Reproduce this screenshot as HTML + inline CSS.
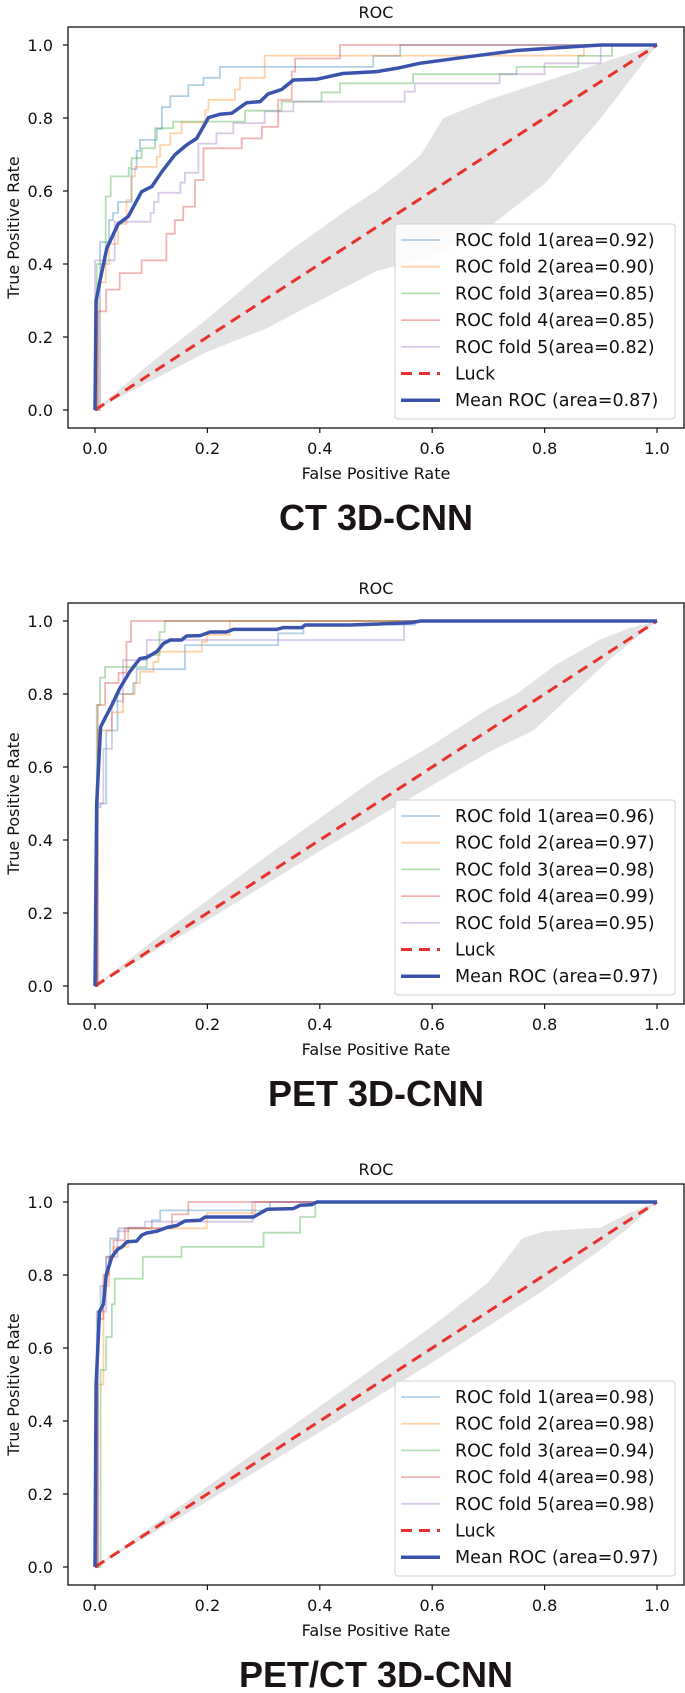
<!DOCTYPE html>
<html><head><meta charset="utf-8"><style>
html,body{margin:0;padding:0;background:#fff}
svg{display:block}
text{font-family:"DejaVu Sans","Liberation Sans",sans-serif;fill:#111}
.big{font-family:"Liberation Sans",sans-serif;font-weight:bold;fill:#1a1414}
</style></head><body>
<svg id="fig" width="685" height="1693" viewBox="0 0 685 1693" xmlns="http://www.w3.org/2000/svg"></svg>
<script>
// ---------- data: CT panel ----------
const ctTitles = ["ROC fold 1(area=0.92)","ROC fold 2(area=0.90)","ROC fold 3(area=0.85)","ROC fold 4(area=0.85)","ROC fold 5(area=0.82)","Luck","Mean ROC (area=0.87)"];
const ctF1x=[0.009,0.025,0.032,0.041,0.065,0.074,0.080,0.110,0.119,0.134,0.166,0.193,0.222,0.495,0.543];
const ctF1y=[0.46,0.52,0.54,0.57,0.66,0.71,0.74,0.77,0.83,0.86,0.89,0.91,0.94,0.97,1.0];
const ctF2x=[0.006,0.019,0.025,0.041,0.056,0.065,0.071,0.110,0.116,0.134,0.154,0.196,0.202,0.249,0.258,0.302,0.87];
const ctF2y=[0.35,0.40,0.455,0.51,0.575,0.64,0.666,0.694,0.726,0.758,0.788,0.821,0.85,0.878,0.91,0.971,1.0];
const ctF3x=[0.003,0.019,0.028,0.060,0.065,0.083,0.107,0.139,0.267,0.332,0.403,0.436,0.566,0.75,0.86,0.92];
const ctF3y=[0.40,0.585,0.64,0.663,0.69,0.717,0.772,0.79,0.82,0.845,0.87,0.895,0.92,0.94,0.97,1.0];
const ctF4x=[0.005,0.020,0.044,0.083,0.127,0.142,0.157,0.178,0.193,0.261,0.297,0.326,0.350,0.356,0.436];
const ctF4y=[0.27,0.33,0.375,0.41,0.483,0.52,0.557,0.63,0.717,0.744,0.776,0.85,0.927,0.963,1.0];
const ctF5x=[0.0,0.035,0.099,0.105,0.113,0.152,0.160,0.184,0.216,0.246,0.302,0.353,0.551,0.569,0.72,0.80,0.90];
const ctF5y=[0.41,0.516,0.54,0.57,0.595,0.623,0.65,0.73,0.758,0.786,0.818,0.845,0.872,0.895,0.92,0.95,1.0];
const ctMx=[0,0.002,0.009,0.021,0.041,0.059,0.083,0.101,0.119,0.142,0.163,0.181,0.202,0.222,0.243,0.270,0.294,0.308,0.332,0.353,0.394,0.441,0.501,0.536,0.578,0.65,0.75,0.85,0.9,1.0];
const ctMy=[0,0.30,0.356,0.443,0.509,0.530,0.598,0.612,0.653,0.699,0.726,0.744,0.801,0.810,0.813,0.842,0.845,0.866,0.878,0.904,0.906,0.922,0.927,0.936,0.950,0.965,0.985,0.995,1.0,1.0];
const ctBandUx=[0,0.1,0.2,0.3,0.35,0.45,0.5,0.55,0.58,0.62,0.7,0.8,0.9,1];
const ctBandUy=[0,0.13,0.25,0.38,0.44,0.55,0.6,0.66,0.7,0.8,0.85,0.9,0.95,1];
const ctBandLx=[0,0.1,0.2,0.3,0.4,0.5,0.6,0.7,0.8,0.9,0.95,1];
const ctBandLy=[0,0.08,0.16,0.22,0.3,0.38,0.42,0.5,0.62,0.8,0.9,1];
// ---------- data: PET panel ----------
const petTitles = ["ROC fold 1(area=0.96)","ROC fold 2(area=0.97)","ROC fold 3(area=0.98)","ROC fold 4(area=0.99)","ROC fold 5(area=0.95)","Luck","Mean ROC (area=0.97)"];
const petF1x=[0.004,0.010,0.020,0.040,0.068,0.074,0.160,0.326,0.371,0.57];
const petF1y=[0.49,0.50,0.70,0.80,0.83,0.868,0.934,0.966,0.99,1.0];
const petF2x=[0.005,0.030,0.050,0.071,0.080,0.104,0.113,0.190,0.199,0.240];
const petF2y=[0.70,0.75,0.80,0.83,0.861,0.888,0.916,0.943,0.962,1.0];
const petF3x=[0.003,0.009,0.018,0.092,0.115,0.124];
const petF3y=[0.77,0.845,0.874,0.907,0.97,1.0];
const petF4x=[0.005,0.018,0.042,0.056,0.064];
const petF4y=[0.77,0.83,0.858,0.943,1.0];
const petF5x=[0.003,0.015,0.030,0.050,0.092,0.55];
const petF5y=[0.50,0.65,0.78,0.893,0.948,1.0];
const petMx=[0,0.003,0.01,0.02,0.03,0.044,0.062,0.080,0.092,0.110,0.122,0.134,0.154,0.163,0.187,0.205,0.234,0.246,0.323,0.335,0.368,0.374,0.454,0.56,0.58,1.0];
const petMy=[0,0.50,0.71,0.74,0.77,0.815,0.861,0.897,0.900,0.916,0.939,0.948,0.948,0.959,0.960,0.970,0.970,0.977,0.977,0.982,0.982,0.989,0.989,0.995,1.0,1.0];
const petBandUx=[0,0.1,0.3,0.5,0.6,0.7,0.75,0.82,0.9,0.95,1];
const petBandUy=[0,0.12,0.35,0.57,0.66,0.76,0.8,0.88,0.95,0.98,1];
const petBandLx=[0,0.2,0.4,0.6,0.7,0.78,0.85,0.92,1];
const petBandLy=[0,0.18,0.37,0.55,0.64,0.7,0.8,0.9,1];
// ---------- data: PET/CT panel ----------
const fuTitles = ["ROC fold 1(area=0.98)","ROC fold 2(area=0.98)","ROC fold 3(area=0.94)","ROC fold 4(area=0.98)","ROC fold 5(area=0.98)","Luck","Mean ROC (area=0.97)"];
const fuF1x=[0.003,0.010,0.020,0.027,0.042,0.101,0.116,0.311];
const fuF1y=[0.70,0.77,0.85,0.90,0.928,0.95,0.977,1.0];
const fuF2x=[0.005,0.015,0.025,0.033,0.059,0.199,0.285];
const fuF2y=[0.50,0.77,0.85,0.877,0.928,0.97,1.0];
const fuF3x=[0.01,0.02,0.03,0.035,0.085,0.154,0.300,0.365,0.392];
const fuF3y=[0.54,0.63,0.72,0.79,0.85,0.877,0.916,0.959,1.0];
const fuF4x=[0.005,0.015,0.025,0.033,0.053,0.137,0.166];
const fuF4y=[0.68,0.80,0.85,0.895,0.928,0.966,1.0];
const fuF5x=[0.005,0.020,0.040,0.060,0.089,0.28];
const fuF5y=[0.70,0.85,0.92,0.93,0.946,1.0];
const fuMx=[0,0.002,0.008,0.015,0.02,0.03,0.04,0.048,0.057,0.074,0.083,0.092,0.110,0.128,0.146,0.160,0.187,0.196,0.282,0.306,0.353,0.365,0.386,0.395,1.0];
const fuMy=[0,0.50,0.70,0.72,0.80,0.85,0.87,0.877,0.891,0.893,0.909,0.915,0.92,0.93,0.936,0.948,0.950,0.959,0.959,0.980,0.982,0.991,0.993,1.0,1.0];
const fuBandUx=[0,0.1,0.3,0.5,0.6,0.7,0.76,0.8,0.9,0.95,1];
const fuBandUy=[0,0.11,0.33,0.55,0.66,0.78,0.9,0.92,0.93,0.97,1];
const fuBandLx=[0,0.2,0.4,0.6,0.7,0.8,0.9,0.95,1];
const fuBandLy=[0,0.18,0.37,0.56,0.66,0.76,0.87,0.93,1];

const tickVals=[0.0,0.2,0.4,0.6,0.8,1.0];
const tickLabels=["0.0","0.2","0.4","0.6","0.8","1.0"];
const foldColors=["#1f77b4","#ff7f0e","#2ca02c","#d62728","#9467bd"];

const NS="http://www.w3.org/2000/svg";
const svg=document.getElementById('fig');
function mk(tag,attrs,parent){const e=document.createElementNS(NS,tag);for(const k in attrs)e.setAttribute(k,attrs[k]);(parent||svg).appendChild(e);return e;}

const panels=[
 {key:"ct",top:27,name:"CT 3D-CNN",titles:ctTitles,folds:[[ctF1x,ctF1y],[ctF2x,ctF2y],[ctF3x,ctF3y],[ctF4x,ctF4y],[ctF5x,ctF5y]],mean:[ctMx,ctMy],band:[ctBandUx,ctBandUy,ctBandLx,ctBandLy]},
 {key:"pet",top:603,name:"PET 3D-CNN",titles:petTitles,folds:[[petF1x,petF1y],[petF2x,petF2y],[petF3x,petF3y],[petF4x,petF4y],[petF5x,petF5y]],mean:[petMx,petMy],band:[petBandUx,petBandUy,petBandLx,petBandLy]},
 {key:"petct",top:1184,name:"PET/CT 3D-CNN",titles:fuTitles,folds:[[fuF1x,fuF1y],[fuF2x,fuF2y],[fuF3x,fuF3y],[fuF4x,fuF4y],[fuF5x,fuF5y]],mean:[fuMx,fuMy],band:[fuBandUx,fuBandUy,fuBandLx,fuBandLy]}
];

panels.forEach(p=>{
 const g=mk('g',{});
 
 
 const L=68,R=684,T=p.top,B=p.top+401;
 const X=v=>95+v*562;
 const Y=v=>(T+383)-v*365;
 // band
 const [ux,uy,lx,ly]=p.band;
 let d='';
 ux.forEach((v,i)=>{d+=(i?'L':'M')+X(v).toFixed(1)+','+Y(uy[i]).toFixed(1);});
 for(let i=lx.length-1;i>=0;i--){d+='L'+X(lx[i]).toFixed(1)+','+Y(ly[i]).toFixed(1);}
 const band=mk('path',{d:d+'Z',fill:'#e3e3e3',stroke:'none'},g);
 
 
 // folds (step)
 p.folds.forEach((f,k)=>{
  const [fx,fy]=f; let py=0; let dd='M'+X(0)+','+Y(0);
  fx.forEach((v,i)=>{dd+='L'+X(v).toFixed(1)+','+Y(py).toFixed(1)+'L'+X(v).toFixed(1)+','+Y(fy[i]).toFixed(1);py=fy[i];});
  dd+='L'+X(1)+','+Y(py).toFixed(1);
  const e=mk('path',{d:dd,fill:'none',stroke:foldColors[k],'stroke-opacity':0.35,'stroke-width':1.8},g);
  
  
 });
 // luck
 const luck=mk('line',{x1:X(0),y1:Y(0),x2:X(1),y2:Y(1),stroke:'#e8302c','stroke-width':3,'stroke-dasharray':'11,7'},g);
 
 
 // mean
 const [mx,my]=p.mean; let md='';
 mx.forEach((v,i)=>{md+=(i?'L':'M')+X(v).toFixed(1)+','+Y(my[i]).toFixed(1);});
 const mean=mk('path',{d:md,fill:'none',stroke:'#3a54ad','stroke-width':3.5,'stroke-linejoin':'round'},g);
 
 
 // frame
 const fr=mk('rect',{x:L,y:T,width:R-L,height:B-T,fill:'none',stroke:'#111','stroke-width':1.3},g);
 
 
 // ticks
 tickVals.forEach((v,i)=>{
  mk('line',{x1:L-5,x2:L,y1:Y(v),y2:Y(v),stroke:'#111','stroke-width':1.2},g);
  const yt=mk('text',{x:53,y:Y(v)+6,'text-anchor':'end','font-size':16},g);
  yt.textContent=tickLabels[i];
  
  
  mk('line',{x1:X(v),x2:X(v),y1:B,y2:B+5,stroke:'#111','stroke-width':1.2},g);
  const xt=mk('text',{x:X(v),y:B+26,'text-anchor':'middle','font-size':16},g);
  xt.textContent=tickLabels[i];
  
  
 });
 const ttl=mk('text',{x:(L+R)/2,y:T-9,'text-anchor':'middle','font-size':16},g);
 ttl.textContent='ROC';
 
 
 const xl=mk('text',{x:(L+R)/2,y:B+51,'text-anchor':'middle','font-size':16},g);
 xl.textContent='False Positive Rate';
 
 
 const cy=(T+B)/2;
 const yl=mk('text',{x:19,y:cy,'text-anchor':'middle','font-size':16,transform:'rotate(-90 19 '+cy+')'},g);
 yl.textContent='True Positive Rate';
 
 
 // legend
 const lg=mk('g',{},g);
 
 
 const lt=B-9-195;
 mk('rect',{x:395,y:lt,width:280,height:195,rx:3,fill:'#fff','fill-opacity':0.85,stroke:'#d0d0d0','stroke-width':1},lg);
 p.titles.forEach((t,i)=>{
  const yy=lt+16+i*26.7;
  let st={stroke:'#3a54ad','stroke-width':3.5};
  if(i<5) st={stroke:foldColors[i],'stroke-opacity':0.35,'stroke-width':1.8};
  if(i===5) st={stroke:'#e8302c','stroke-width':3,'stroke-dasharray':'11,7'};
  mk('line',Object.assign({x1:401,x2:440,y1:yy,y2:yy},st),lg);
  const tx=mk('text',{x:455,y:yy+6,'font-size':17.5},lg);
  tx.textContent=t;
  
  
 });
 const big=mk('text',{x:(L+R)/2,y:B+102,'text-anchor':'middle','font-size':36,'class':'big'},g);
 big.textContent=p.name;
 
 
});
</script>
</body></html>
